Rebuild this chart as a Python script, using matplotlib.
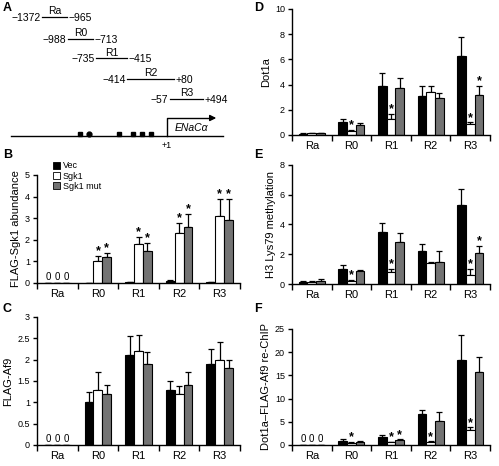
import matplotlib
matplotlib.use("Agg")
from matplotlib import pyplot as plt
import numpy as np

plt.rcParams['font.family'] = ['Liberation Sans', 'DejaVu Sans']
plt.rcParams['axes.linewidth'] = 1.0

regions = ['Ra', 'R0', 'R1', 'R2', 'R3']
series = ['Vec', 'Sgk1', 'Sgk1 mut']
colors = ['black', 'white', '#737373']

# panel B - FLAG-Sgk1 abundance
b_vals = [[0, 0, 0.03, 0.07, 0.05], [0, 1.0, 1.8, 2.3, 3.1], [0, 1.2, 1.5, 2.6, 2.9]]
b_err = [[0, 0, 0.0, 0.05, 0.0], [0, 0.25, 0.35, 0.5, 0.8], [0, 0.18, 0.35, 0.6, 1.0]]
b_star = [[], [1, 2, 3, 4], [1, 2, 3, 4]]

# panel C - FLAG-Af9
c_vals = [[0, 1.0, 2.1, 1.3, 1.9], [0, 1.3, 2.2, 1.2, 2.0], [0, 1.2, 1.9, 1.4, 1.8]]
c_err = [[0, 0.25, 0.45, 0.2, 0.35], [0, 0.4, 0.37, 0.18, 0.42], [0, 0.2, 0.28, 0.32, 0.2]]
c_star = [[], [], []]

# panel D - Dot1a
d_vals = [[0.1, 1.0, 3.9, 3.1, 6.3], [0.12, 0.3, 1.25, 3.4, 0.85], [0.12, 0.8, 3.7, 2.9, 3.2]]
d_err = [[0.05, 0.3, 1.0, 0.8, 1.5], [0.05, 0.1, 0.4, 0.5, 0.15], [0.05, 0.15, 0.8, 0.4, 0.7]]
d_star = [[], [1, 2, 4], [4]]

# panel E - H3 Lys79 methylation
e_vals = [[0.15, 1.0, 3.5, 2.2, 5.3], [0.12, 0.2, 0.8, 1.4, 0.6], [0.22, 0.9, 2.8, 1.5, 2.1]]
e_err = [[0.08, 0.3, 0.6, 0.5, 1.1], [0.08, 0.05, 0.2, 0.05, 0.4], [0.12, 0.05, 0.65, 0.7, 0.45]]
e_star = [[], [1, 2, 4], [4]]

# panel F - Dot1a-FLAG-Af9 re-ChIP
f_vals = [[0, 0.9, 1.8, 6.6, 18.3], [0, 0.5, 0.6, 0.6, 3.3], [0, 0.7, 1.0, 5.2, 15.8]]
f_err = [[0, 0.3, 0.4, 1.0, 5.3], [0, 0.1, 0.1, 0.2, 0.5], [0, 0.1, 0.2, 2.0, 3.2]]
f_star = [[], [1, 2, 3, 4], [2]]

W, H = 499, 466
fig = plt.figure(figsize=(W / 100, H / 100), dpi=100)


def px_axes(x0, x1, y0, y1):
    # axes from pixel box (y measured from top)
    return fig.add_axes([x0 / W, 1 - y1 / H, (x1 - x0) / W, (y1 - y0) / H])


def bar_panel(ax, vals, errs, stars, ymax, ystep, ylabel, zeros=False):
    x = np.arange(len(regions))
    w = 0.22
    for i in range(3):
        xs = x + (i - 1) * w
        ax.bar(xs, vals[i], w, color=colors[i], edgecolor='black', linewidth=0.8, zorder=2)
        e = np.array(errs[i])
        ax.errorbar(xs, vals[i], yerr=[np.zeros_like(e), e], fmt='none', ecolor='black',
                    elinewidth=0.9, capsize=2.2, capthick=0.9, zorder=1)
        for k in stars[i]:
            ax.annotate('*', (xs[k], vals[i][k] + errs[i][k]), xytext=(0, -1),
                        textcoords='offset points', ha='center', va='bottom',
                        fontsize=9, fontweight='bold')
    if zeros:
        for i in range(3):
            ax.text((i - 1) * w, ymax * 0.005, '0', ha='center', va='bottom', fontsize=7)
    ax.set_xlim(-0.5, 4.5)
    ax.set_ylim(0, ymax)
    ax.set_yticks(np.arange(0, ymax + ystep / 2, ystep))
    ax.yaxis.set_major_formatter(matplotlib.ticker.FormatStrFormatter('%g'))
    ax.set_xticks(np.arange(-0.5, 5, 1))
    ax.set_xticklabels([])
    ax.set_xticks(x, minor=True)
    ax.set_xticklabels(regions, minor=True, fontsize=8)
    ax.tick_params(axis='x', which='minor', length=0, pad=4)
    ax.tick_params(axis='x', which='major', length=4, width=1)
    ax.tick_params(axis='y', length=3, width=1, labelsize=6.5, pad=2)
    for s in ['top', 'right']:
        ax.spines[s].set_visible(False)
    ax.set_ylabel(ylabel, fontsize=8, labelpad=3)


axB = px_axes(37, 240, 175, 283)
bar_panel(axB, b_vals, b_err, b_star, 5, 1, 'FLAG-Sgk1 abundance', zeros=True)
handles = [matplotlib.patches.Patch(facecolor=colors[i], edgecolor='black', linewidth=0.6) for i in range(3)]
axB.legend(handles, series, loc='upper left', bbox_to_anchor=(0.06, 1.16), frameon=False,
           fontsize=6.5, handlelength=0.8, handleheight=0.8, handletextpad=0.3,
           labelspacing=0.15, borderaxespad=0)

axC = px_axes(37, 240, 317, 445)
bar_panel(axC, c_vals, c_err, c_star, 3, 0.5, 'FLAG-Af9', zeros=True)

axD = px_axes(292, 490, 9, 135)
bar_panel(axD, d_vals, d_err, d_star, 10, 2, 'Dot1a')

axE = px_axes(292, 490, 165, 284)
bar_panel(axE, e_vals, e_err, e_star, 8, 2, 'H3 Lys79 methylation')

axF = px_axes(292, 490, 329, 445)
bar_panel(axF, f_vals, f_err, f_star, 25, 5, 'Dot1a\u2013FLAG-Af9 re-ChIP', zeros=True)

# panel A - promoter schematic, drawn in pixel units
axA = fig.add_axes([0, 0, 1, 1], zorder=-1)
axA.set_xlim(0, W)
axA.set_ylim(H, 0)
axA.axis('off')

frag_names = ['Ra', 'R0', 'R1', 'R2', 'R3']
frag_start = ['\u22121372', '\u2212988', '\u2212735', '\u2212414', '\u221257']
frag_end = ['\u2212965', '\u2212713', '\u2212415', '+80', '+494']
frag_x0 = [42, 68, 96, 127, 170]
frag_x1 = [67, 93, 127, 174, 203]
frag_y = [17, 39, 58, 79, 99]
for n, s, e, x0, x1, y in zip(frag_names, frag_start, frag_end, frag_x0, frag_x1, frag_y):
    axA.plot([x0, x1], [y, y], color='black', lw=0.9)
    axA.text((x0 + x1) / 2, y - 0.5, n, ha='center', va='bottom', fontsize=7.5)
    axA.text(x0 - 1.5, y + 1, s, ha='right', va='center', fontsize=7.5)
    axA.text(x1 + 1.5, y + 1, e, ha='left', va='center', fontsize=7.5)

axA.plot([11, 223], [136, 136], color='black', lw=1.0)
axA.plot([167, 167, 212], [136, 118, 118], color='black', lw=1.0)
axA.annotate('', xy=(219, 118), xytext=(210, 118),
             arrowprops=dict(arrowstyle='-|>', color='black', lw=1.0, mutation_scale=9))
axA.text(175, 128, 'ENaC\u03b1', style='italic', fontsize=7.5, va='center', ha='left')
axA.text(167, 145, '+1', fontsize=6.5, va='center', ha='center')
sq_x = [80, 119, 133, 142, 151]
axA.plot(sq_x, [134] * len(sq_x), 's', color='black', ms=3.3)
axA.plot([89], [134], 'o', color='black', ms=3.5)

for lab, x, y in [('A', 3, 8), ('B', 3, 155), ('C', 3, 309), ('D', 254, 8), ('E', 254, 155), ('F', 254, 309)]:
    axA.text(x, y, lab, fontsize=9, fontweight='bold', va='center', ha='left')

fig.savefig('out.png', dpi=100)
